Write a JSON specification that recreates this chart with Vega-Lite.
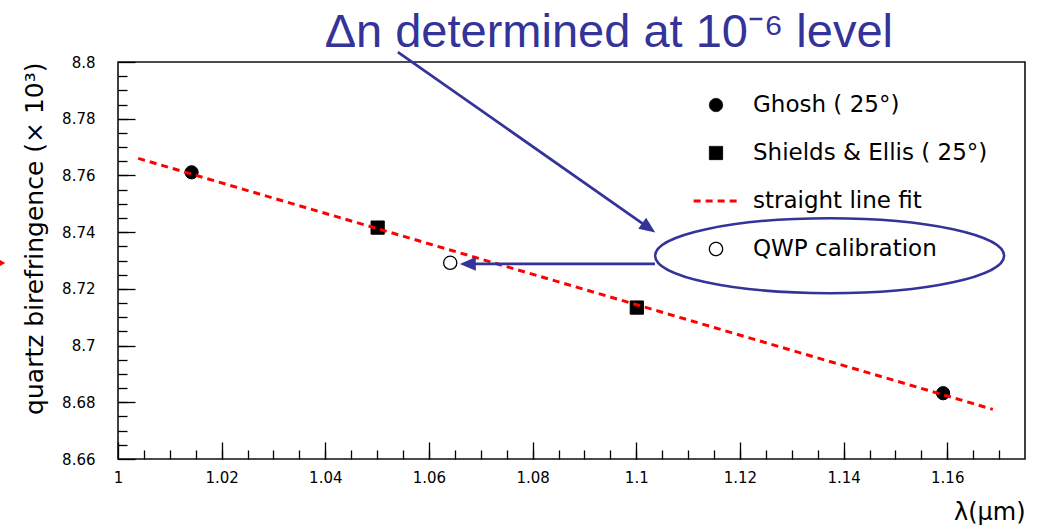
{
  "$schema": "https://vega.github.io/schema/vega-lite/v6.json",
  "width": 907,
  "height": 397,
  "autosize": {"type": "none"},
  "padding": {"left": 118, "top": 62, "right": 14, "bottom": 69},
  "background": "white",
  "datasets": {
    "points": [
      {"lambda": 1.0142, "dn": 8.7611, "series": "Ghosh ( 25°)"},
      {"lambda": 1.1592, "dn": 8.6832, "series": "Ghosh ( 25°)"},
      {"lambda": 1.0501, "dn": 8.7416, "series": "Shields & Ellis ( 25°)"},
      {"lambda": 1.1001, "dn": 8.7134, "series": "Shields & Ellis ( 25°)"},
      {"lambda": 1.0641, "dn": 8.7292, "series": "QWP calibration"}
    ],
    "fit": [
      {"lambda": 1.0039, "dn": 8.7660, "series": "\u00a0straight line fit"},
      {"lambda": 1.1688, "dn": 8.6775, "series": "\u00a0straight line fit"}
    ],
    "arrows": [
      {"lambda": 1.0540, "dn": 8.8035, "lambda2": 1.1024, "dn2": 8.7415},
      {"lambda": 1.1036, "dn": 8.7288, "lambda2": 1.0675, "dn2": 8.7288}
    ]
  },
  "resolve": {"axis": {"x": "independent", "y": "independent"}},
  "layer": [
    {
      "data": {"name": "points"},
      "mark": {"type": "point", "filled": true, "opacity": 1},
      "encoding": {
        "x": {
          "field": "lambda", "type": "quantitative",
          "scale": {"domain": [1, 1.175], "nice": false, "zero": false},
          "axis": {
            "orient": "bottom",
            "values": [1, 1.02, 1.04, 1.06, 1.08, 1.1, 1.12, 1.14, 1.16],
            "format": "~g",
            "ticks": false, "domain": false, "grid": false,
            "labelFont": "DejaVu Sans", "labelFontSize": 15, "labelColor": "black",
            "labelPadding": 11, "labelFlush": false, "labelOverlap": false,
            "title": "λ(μm)", "titleAnchor": "end", "titleFont": "DejaVu Sans",
            "titleFontSize": 24, "titleFontWeight": "normal", "titleColor": "black",
            "titlePadding": 15
          }
        },
        "y": {
          "field": "dn", "type": "quantitative",
          "scale": {"domain": [8.66, 8.8], "nice": false, "zero": false},
          "axis": {
            "orient": "left",
            "values": [8.66, 8.68, 8.7, 8.72, 8.74, 8.76, 8.78, 8.8],
            "format": "~g",
            "ticks": false, "domain": false, "grid": false,
            "labelFont": "DejaVu Sans", "labelFontSize": 15, "labelColor": "black",
            "labelPadding": 23, "labelFlush": false, "labelOverlap": false,
            "title": "quartz birefringence (× 10³)", "titleAnchor": "end",
            "titleFont": "DejaVu Sans", "titleFontSize": 25, "titleFontWeight": "normal",
            "titleColor": "black", "titlePadding": 14
          }
        },
        "shape": {
          "field": "series", "type": "nominal",
          "scale": {"domain": ["Ghosh ( 25°)", "Shields & Ellis ( 25°)", "\u00a0straight line fit", "QWP calibration"], "range": ["circle", "square", "stroke", "circle"]},
          "legend": {"title": null, "orient": "none", "legendX": 574, "legendY": 31, "padding": 0, "clipHeight": 24, "rowPadding": 24, "labelOffset": 13, "labelFont": "DejaVu Sans", "labelFontSize": 23, "labelColor": "black", "labelLimit": 400, "symbolOffset": 0}
        },
        "fill": {
          "field": "series", "type": "nominal",
          "scale": {"domain": ["Ghosh ( 25°)", "Shields & Ellis ( 25°)", "\u00a0straight line fit", "QWP calibration"], "range": ["black", "black", "transparent", "white"]},
          "legend": {"title": null, "orient": "none", "legendX": 574, "legendY": 31, "padding": 0, "clipHeight": 24, "rowPadding": 24, "labelOffset": 13, "labelFont": "DejaVu Sans", "labelFontSize": 23, "labelColor": "black", "labelLimit": 400, "symbolOffset": 0}
        },
        "stroke": {
          "field": "series", "type": "nominal",
          "scale": {"domain": ["Ghosh ( 25°)", "Shields & Ellis ( 25°)", "\u00a0straight line fit", "QWP calibration"], "range": ["black", "black", "red", "black"]},
          "legend": {"title": null, "orient": "none", "legendX": 574, "legendY": 31, "padding": 0, "clipHeight": 24, "rowPadding": 24, "labelOffset": 13, "labelFont": "DejaVu Sans", "labelFontSize": 23, "labelColor": "black", "labelLimit": 400, "symbolOffset": 0}
        },
        "size": {
          "field": "series", "type": "nominal",
          "scale": {"type": "ordinal", "domain": ["Ghosh ( 25°)", "Shields & Ellis ( 25°)", "\u00a0straight line fit", "QWP calibration"], "range": [175, 175, 2000, 175]},
          "legend": {"title": null, "orient": "none", "legendX": 574, "legendY": 31, "padding": 0, "clipHeight": 24, "rowPadding": 24, "labelOffset": 13, "labelFont": "DejaVu Sans", "labelFontSize": 23, "labelColor": "black", "labelLimit": 400, "symbolOffset": 0}
        },
        "strokeWidth": {
          "field": "series", "type": "nominal",
          "scale": {"type": "ordinal", "domain": ["Ghosh ( 25°)", "Shields & Ellis ( 25°)", "\u00a0straight line fit", "QWP calibration"], "range": [1, 1, 3, 1.3]},
          "legend": {"title": null, "orient": "none", "legendX": 574, "legendY": 31, "padding": 0, "clipHeight": 24, "rowPadding": 24, "labelOffset": 13, "labelFont": "DejaVu Sans", "labelFontSize": 23, "labelColor": "black", "labelLimit": 400, "symbolOffset": 0}
        }
      }
    },
    {
      "data": {"name": "fit"},
      "mark": {"type": "line"},
      "encoding": {
        "x": {
          "field": "lambda", "type": "quantitative",
          "scale": {"domain": [1, 1.175], "nice": false, "zero": false},
          "axis": {"orient": "top", "offset": -397, "values": [1, 1.02, 1.04, 1.06, 1.08, 1.1, 1.12, 1.14, 1.16], "labels": false, "domain": false, "grid": false, "title": null, "tickSize": 17, "tickColor": "black", "tickWidth": 1.3}
        },
        "y": {
          "field": "dn", "type": "quantitative",
          "scale": {"domain": [8.66, 8.8], "nice": false, "zero": false},
          "axis": {"orient": "right", "offset": -907, "values": [8.66, 8.68, 8.7, 8.72, 8.74, 8.76, 8.78, 8.8], "labels": false, "domain": false, "grid": false, "title": null, "tickSize": 17, "tickColor": "black", "tickWidth": 1.3}
        },
        "stroke": {
          "field": "series", "type": "nominal",
          "scale": {"domain": ["Ghosh ( 25°)", "Shields & Ellis ( 25°)", "\u00a0straight line fit", "QWP calibration"], "range": ["black", "black", "red", "black"]},
          "legend": {"title": null, "orient": "none", "legendX": 574, "legendY": 31, "padding": 0, "clipHeight": 24, "rowPadding": 24, "labelOffset": 13, "labelFont": "DejaVu Sans", "labelFontSize": 23, "labelColor": "black", "labelLimit": 400, "symbolOffset": 0}
        },
        "strokeDash": {
          "field": "series", "type": "nominal",
          "scale": {"domain": ["Ghosh ( 25°)", "Shields & Ellis ( 25°)", "\u00a0straight line fit", "QWP calibration"], "range": [[1, 0], [1, 0], [7, 5], [1, 0]]},
          "legend": {"title": null, "orient": "none", "legendX": 574, "legendY": 31, "padding": 0, "clipHeight": 24, "rowPadding": 24, "labelOffset": 13, "labelFont": "DejaVu Sans", "labelFontSize": 23, "labelColor": "black", "labelLimit": 400, "symbolOffset": 0}
        },
        "strokeWidth": {
          "field": "series", "type": "nominal",
          "scale": {"type": "ordinal", "domain": ["Ghosh ( 25°)", "Shields & Ellis ( 25°)", "\u00a0straight line fit", "QWP calibration"], "range": [1, 1, 3, 1.3]},
          "legend": {"title": null, "orient": "none", "legendX": 574, "legendY": 31, "padding": 0, "clipHeight": 24, "rowPadding": 24, "labelOffset": 13, "labelFont": "DejaVu Sans", "labelFontSize": 23, "labelColor": "black", "labelLimit": 400, "symbolOffset": 0}
        }
      }
    },
    {
      "data": {"values": [{"lambda": 1.1373, "dn": 8.7317}]},
      "mark": {"type": "point", "filled": false, "shape": "M-1,0C-1,-0.1187,-0.5523,-0.2149,0,-0.2149C0.5523,-0.2149,1,-0.1187,1,0C1,0.1187,0.5523,0.2149,0,0.2149C-0.5523,0.2149,-1,0.1187,-1,0Z", "size": 121801, "stroke": "#333399", "strokeWidth": 2.5, "opacity": 1},
      "encoding": {
        "x": {
          "field": "lambda", "type": "quantitative",
          "scale": {"domain": [1, 1.175], "nice": false, "zero": false},
          "axis": {"orient": "top", "offset": -397, "values": [1.005, 1.01, 1.015, 1.02, 1.025, 1.03, 1.035, 1.04, 1.045, 1.05, 1.055, 1.06, 1.065, 1.07, 1.075, 1.08, 1.085, 1.09, 1.095, 1.1, 1.105, 1.11, 1.115, 1.12, 1.125, 1.13, 1.135, 1.14, 1.145, 1.15, 1.155, 1.16, 1.165, 1.17], "labels": false, "domain": false, "grid": false, "title": null, "tickSize": 9, "tickColor": "black", "tickWidth": 1.3}
        },
        "y": {
          "field": "dn", "type": "quantitative",
          "scale": {"domain": [8.66, 8.8], "nice": false, "zero": false},
          "axis": {"orient": "right", "offset": -907, "values": [8.665, 8.67, 8.675, 8.68, 8.685, 8.69, 8.695, 8.7, 8.705, 8.71, 8.715, 8.72, 8.725, 8.73, 8.735, 8.74, 8.745, 8.75, 8.755, 8.76, 8.765, 8.77, 8.775, 8.78, 8.785, 8.79, 8.795], "labels": false, "domain": false, "grid": false, "title": null, "tickSize": 9, "tickColor": "black", "tickWidth": 1.3}
        }
      }
    },
    {
      "data": {"name": "arrows"},
      "mark": {"type": "rule", "stroke": "#333399", "strokeWidth": 2.7},
      "encoding": {
        "x": {"field": "lambda", "type": "quantitative", "scale": {"domain": [1, 1.175], "nice": false, "zero": false}, "axis": null},
        "y": {"field": "dn", "type": "quantitative", "scale": {"domain": [8.66, 8.8], "nice": false, "zero": false}, "axis": null},
        "x2": {"field": "lambda2"},
        "y2": {"field": "dn2"}
      }
    },
    {
      "data": {"values": [{"lambda": 1.1024, "dn": 8.7415}]},
      "mark": {"type": "point", "filled": true, "shape": "M1,0L-1,-0.85L-1,0.85Z", "size": 256, "fill": "#333399", "opacity": 1, "angle": 35.1},
      "encoding": {
        "x": {"field": "lambda", "type": "quantitative", "scale": {"domain": [1, 1.175], "nice": false, "zero": false}, "axis": null},
        "y": {"field": "dn", "type": "quantitative", "scale": {"domain": [8.66, 8.8], "nice": false, "zero": false}, "axis": null}
      }
    },
    {
      "data": {"values": [{"lambda": 1.0675, "dn": 8.7288}]},
      "mark": {"type": "point", "filled": true, "shape": "M1,0L-1,-0.85L-1,0.85Z", "size": 256, "fill": "#333399", "opacity": 1, "angle": 180},
      "encoding": {
        "x": {"field": "lambda", "type": "quantitative", "scale": {"domain": [1, 1.175], "nice": false, "zero": false}, "axis": null},
        "y": {"field": "dn", "type": "quantitative", "scale": {"domain": [8.66, 8.8], "nice": false, "zero": false}, "axis": null}
      }
    },
    {
      "data": {"values": [{"lambda": 0.9776, "dn": 8.7291}]},
      "mark": {"type": "point", "filled": true, "shape": "triangle-right", "size": 60, "fill": "red", "opacity": 1},
      "encoding": {
        "x": {"field": "lambda", "type": "quantitative", "scale": {"domain": [1, 1.175], "nice": false, "zero": false}, "axis": null},
        "y": {"field": "dn", "type": "quantitative", "scale": {"domain": [8.66, 8.8], "nice": false, "zero": false}, "axis": null}
      }
    },
    {
      "data": {"values": [{"lambda": 1.0947, "dn": 8.8053, "label": "Δn determined at 10⁻⁶ level"}]},
      "mark": {"type": "text", "font": "Liberation Sans", "fontSize": 47, "fontWeight": "normal", "color": "#333399", "align": "center", "baseline": "alphabetic"},
      "encoding": {
        "x": {"field": "lambda", "type": "quantitative", "scale": {"domain": [1, 1.175], "nice": false, "zero": false}, "axis": null},
        "y": {"field": "dn", "type": "quantitative", "scale": {"domain": [8.66, 8.8], "nice": false, "zero": false}, "axis": null},
        "text": {"field": "label"}
      }
    }
  ],
  "config": {
    "view": {"stroke": "#111111", "strokeWidth": 1.6},
    "axis": {"grid": false, "domain": false}
  }
}
